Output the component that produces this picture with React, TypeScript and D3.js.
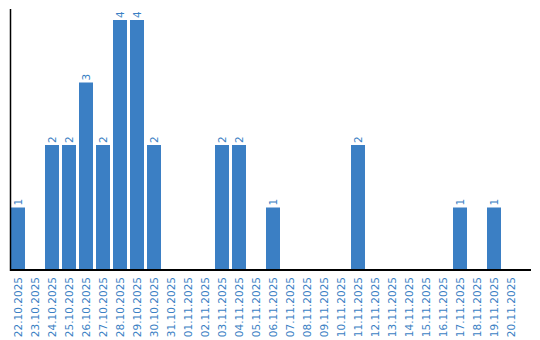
import React from "react";
import * as d3 from "d3";

const categories = [
  "22.10.2025","23.10.2025","24.10.2025","25.10.2025","26.10.2025","27.10.2025","28.10.2025","29.10.2025","30.10.2025","31.10.2025",
  "01.11.2025","02.11.2025","03.11.2025","04.11.2025","05.11.2025","06.11.2025","07.11.2025","08.11.2025","09.11.2025","10.11.2025",
  "11.11.2025","12.11.2025","13.11.2025","14.11.2025","15.11.2025","16.11.2025","17.11.2025","18.11.2025","19.11.2025","20.11.2025",
];
const values = [1,0,2,2,3,2,4,4,2,0, 0,0,2,2,0,1,0,0,0,0, 2,0,0,0,0,0,1,0,1,0];

const W = 540, H = 340;
const BLUE = "#3b7fc4";
const FONT = "DejaVu Sans, Verdana, sans-serif";

export default function App() {
  const x = d3.scaleBand<string>().domain(categories).range([11, 11 + 17 * 30 - 3]).paddingInner(3 / 17).paddingOuter(0);
  const y = d3.scaleLinear().domain([0, 4]).range([270, 20]);
  return (
    <svg width={W} height={H} style={{ position: "absolute", left: 0, top: 0 }}>
      <rect width={W} height={H} fill="#fff" />
      {categories.map((c, i) => {
        const v = values[i];
        const bx = x(c)!;
        const cx = bx + x.bandwidth() / 2;
        return (
          <g key={c}>
            {v > 0 && (
              <rect x={bx} y={y(v)} width={x.bandwidth()} height={y(0) - y(v)} fill={BLUE} />
            )}
            {v > 0 && (
              <text transform={`translate(${cx + 3.7},${y(v) - 2}) rotate(-90)`} fontSize={10.5} fontFamily={FONT} fill={BLUE}>
                {v}
              </text>
            )}
            <text transform={`translate(${cx + 3.7},277) rotate(-90)`} textAnchor="end" fontSize={10.5} fontFamily={FONT} fill={BLUE}>
              {c}
            </text>
          </g>
        );
      })}
      <line x1={10.5} x2={10.5} y1={9} y2={271} stroke="#000" strokeWidth={1.5} />
      <line x1={10} x2={531} y1={270} y2={270} stroke="#000" strokeWidth={2} />
    </svg>
  );
}
